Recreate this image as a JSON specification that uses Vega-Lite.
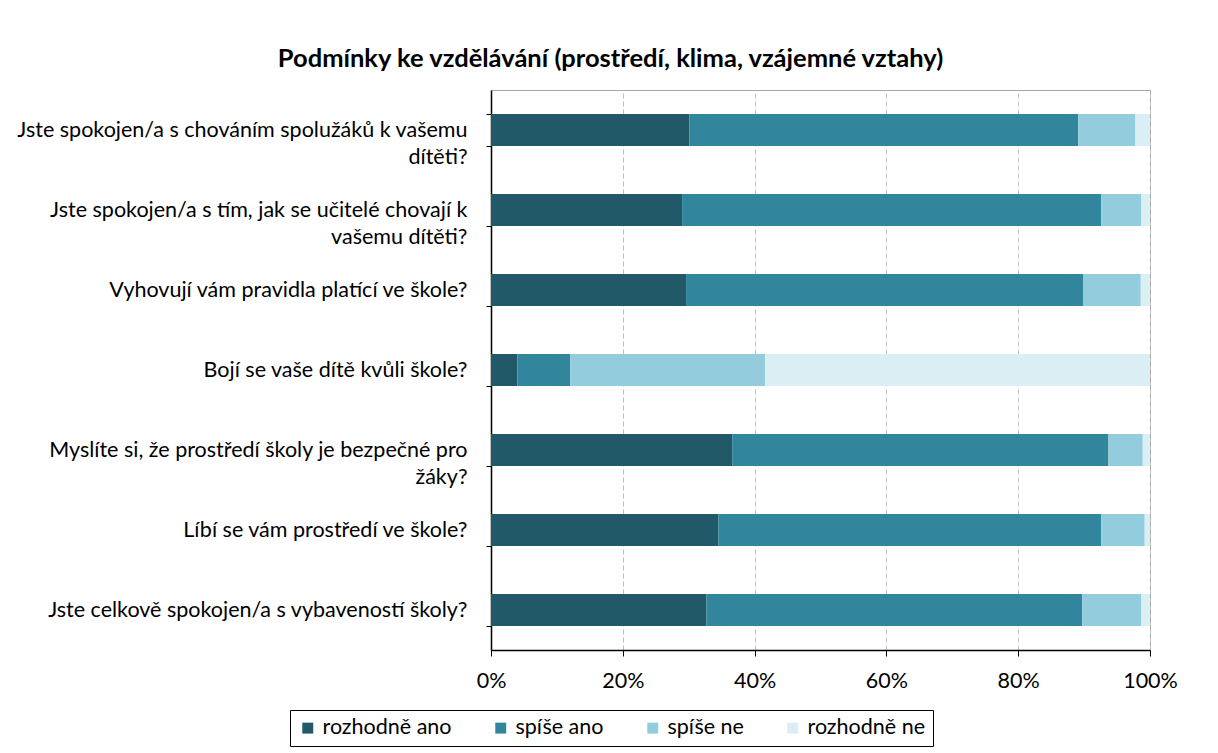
{
  "$schema": "https://vega.github.io/schema/vega-lite/v6.json",
  "autosize": {"type": "none"},
  "width": 659,
  "height": 560,
  "padding": {"left": 491, "top": 90, "right": 68, "bottom": 103},
  "background": "white",
  "title": {
    "text": "Podmínky ke vzdělávání (prostředí, klima, vzájemné vztahy)",
    "font": "Lato",
    "fontSize": 25.5,
    "fontWeight": "bold",
    "color": "#000000",
    "anchor": "middle",
    "dx": -210,
    "offset": 7
  },
  "data": {
    "values": [
      {"q": "Jste spokojen/a  s chováním spolužáků  k vašemu|dítěti?", "k": "rozhodně ano", "o": 1, "v": 30.1},
      {"q": "Jste spokojen/a  s chováním spolužáků  k vašemu|dítěti?", "k": "spíše ano", "o": 2, "v": 59.0},
      {"q": "Jste spokojen/a  s chováním spolužáků  k vašemu|dítěti?", "k": "spíše ne", "o": 3, "v": 8.7},
      {"q": "Jste spokojen/a  s chováním spolužáků  k vašemu|dítěti?", "k": "rozhodně ne", "o": 4, "v": 2.2},
      {"q": "Jste spokojen/a  s tím, jak se učitelé chovají k|vašemu dítěti?", "k": "rozhodně ano", "o": 1, "v": 29.0},
      {"q": "Jste spokojen/a  s tím, jak se učitelé chovají k|vašemu dítěti?", "k": "spíše ano", "o": 2, "v": 63.6},
      {"q": "Jste spokojen/a  s tím, jak se učitelé chovají k|vašemu dítěti?", "k": "spíše ne", "o": 3, "v": 6.1},
      {"q": "Jste spokojen/a  s tím, jak se učitelé chovají k|vašemu dítěti?", "k": "rozhodně ne", "o": 4, "v": 1.3},
      {"q": "Vyhovují vám pravidla platící ve škole?", "k": "rozhodně ano", "o": 1, "v": 29.6},
      {"q": "Vyhovují vám pravidla platící ve škole?", "k": "spíše ano", "o": 2, "v": 60.3},
      {"q": "Vyhovují vám pravidla platící ve škole?", "k": "spíše ne", "o": 3, "v": 8.7},
      {"q": "Vyhovují vám pravidla platící ve škole?", "k": "rozhodně ne", "o": 4, "v": 1.4},
      {"q": "Bojí se vaše dítě kvůli škole?", "k": "rozhodně ano", "o": 1, "v": 4.0},
      {"q": "Bojí se vaše dítě kvůli škole?", "k": "spíše ano", "o": 2, "v": 8.0},
      {"q": "Bojí se vaše dítě kvůli škole?", "k": "spíše ne", "o": 3, "v": 29.6},
      {"q": "Bojí se vaše dítě kvůli škole?", "k": "rozhodně ne", "o": 4, "v": 58.4},
      {"q": "Myslíte si, že prostředí školy je bezpečné pro|žáky?", "k": "rozhodně ano", "o": 1, "v": 36.6},
      {"q": "Myslíte si, že prostředí školy je bezpečné pro|žáky?", "k": "spíše ano", "o": 2, "v": 57.1},
      {"q": "Myslíte si, že prostředí školy je bezpečné pro|žáky?", "k": "spíše ne", "o": 3, "v": 5.2},
      {"q": "Myslíte si, že prostředí školy je bezpečné pro|žáky?", "k": "rozhodně ne", "o": 4, "v": 1.1},
      {"q": "Líbí se vám prostředí ve škole?", "k": "rozhodně ano", "o": 1, "v": 34.5},
      {"q": "Líbí se vám prostředí ve škole?", "k": "spíše ano", "o": 2, "v": 58.1},
      {"q": "Líbí se vám prostředí ve škole?", "k": "spíše ne", "o": 3, "v": 6.6},
      {"q": "Líbí se vám prostředí ve škole?", "k": "rozhodně ne", "o": 4, "v": 0.8},
      {"q": "Jste celkově spokojen/a  s vybaveností školy?", "k": "rozhodně ano", "o": 1, "v": 32.7},
      {"q": "Jste celkově spokojen/a  s vybaveností školy?", "k": "spíše ano", "o": 2, "v": 57.0},
      {"q": "Jste celkově spokojen/a  s vybaveností školy?", "k": "spíše ne", "o": 3, "v": 9.0},
      {"q": "Jste celkově spokojen/a  s vybaveností školy?", "k": "rozhodně ne", "o": 4, "v": 1.3}
    ]
  },
  "mark": {"type": "bar"},
  "encoding": {
    "y": {
      "field": "q",
      "type": "nominal",
      "sort": null,
      "scale": {"paddingInner": 0.6, "paddingOuter": 0.3},
      "axis": {
        "title": null,
        "domainColor": "#000000",
        "domainWidth": 1.5,
        "tickColor": "#000000",
        "tickBand": "extent",
        "tickSize": 5,
        "labelExpr": "indexof(datum.label, '|') < 0 ? datum.label : [split(datum.label, '|')[0], pad(split(datum.label, '|')[1], length(split(datum.label, '|')[1]) + (indexof(datum.label, 'spolužáků') >= 0 ? 49 : (indexof(datum.label, 'učitelé') >= 0 ? 34 : 44)), '\\u00a0')]",
        "labelFont": "Lato",
        "labelFontSize": 21.5,
        "labelColor": "#000000",
        "labelLineHeight": 27,
        "labelPadding": 19,
        "labelLimit": 520
      }
    },
    "x": {
      "field": "v",
      "type": "quantitative",
      "stack": "normalize",
      "scale": {"domain": [0, 1]},
      "axis": {
        "title": null,
        "format": ".0%",
        "values": [0, 0.2, 0.4, 0.6, 0.8, 1],
        "domainColor": "#000000",
        "domainWidth": 1.5,
        "tickColor": "#000000",
        "tickSize": 6,
        "labelFont": "Lato",
        "labelFontSize": 21.5,
        "labelColor": "#000000",
        "labelPadding": 14,
        "grid": true,
        "gridColor": "#BFBFBF",
        "gridDash": [5, 3],
        "labelFlush": false
      }
    },
    "color": {
      "field": "k",
      "type": "nominal",
      "scale": {
        "domain": ["rozhodně ano", "spíše ano", "spíše ne", "rozhodně ne"],
        "range": ["#215968", "#31859C", "#93CDDD", "#DBEEF4"]
      },
      "legend": {
        "title": null,
        "orient": "none",
        "direction": "horizontal",
        "legendX": -201,
        "legendY": 620,
        "symbolType": "square",
        "symbolSize": 120,
        "symbolStrokeWidth": 0,
        "labelFont": "Lato",
        "labelFontSize": 21.5,
        "labelColor": "#000000",
        "labelOffset": 4,
        "columnPadding": 38,
        "strokeColor": "#000000",
        "padding": 7
      }
    },
    "order": {"field": "o", "type": "quantitative"}
  },
  "config": {
    "view": {"stroke": "#A6A6A6", "strokeWidth": 1}
  }
}
